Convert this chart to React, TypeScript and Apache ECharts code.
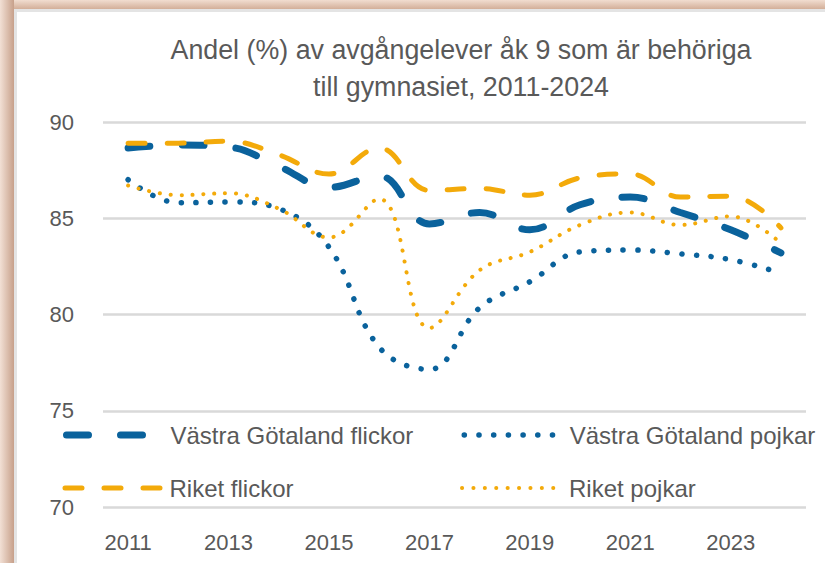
import React, { useEffect, useRef } from "react";
import * as echarts from "echarts";

const years = ["2011","2012","2013","2014","2015","2016","2017","2018","2019","2020","2021","2022","2023","2024"];
const vgFlickor = [88.65, 88.8, 88.7, 87.7, 86.6, 87.2, 84.7, 85.3, 84.4, 85.7, 86.1, 85.3, 84.4, 83.2];
const vgPojkar = [87.0, 85.8, 85.85, 85.5, 83.5, 78.3, 77.15, 80.35, 81.7, 83.25, 83.35, 83.15, 82.85, 82.15];
const riketFlickor = [88.9, 88.9, 89.0, 88.3, 87.3, 88.65, 86.45, 86.55, 86.2, 87.1, 87.3, 86.1, 86.15, 84.5];
const riketPojkar = [86.7, 86.2, 86.3, 85.5, 84.0, 86.0, 79.3, 82.3, 83.25, 84.65, 85.3, 84.65, 85.1, 83.7];

const names = ["Västra Götaland flickor", "Västra Götaland pojkar", "Riket flickor", "Riket pojkar"];
const titleText = "Andel (%) av avgångelever åk 9 som är behöriga\ntill gymnasiet, 2011-2024";
const BLUE = "#0a629c";
const ORANGE = "#f3aa0a";
const TEXT = "#595959";
const FONT = "Liberation Sans";

export default function App() {
  const ref = useRef<HTMLDivElement>(null);
  useEffect(() => {
    if (!ref.current) return;
    const chart = echarts.init(ref.current, null, { renderer: "svg" });
    const legendText = { color: TEXT, fontSize: 24, fontFamily: FONT };
    const mkLegend = (name: string, left: number, top: number, w: number, pad: number, ls: any) => ({
      show: true,
      data: [name],
      left,
      top,
      padding: 0,
      itemWidth: w,
      itemHeight: 14,
      selectedMode: false,
      itemStyle: { color: "rgba(0,0,0,0)", borderColor: "rgba(0,0,0,0)", borderWidth: 0, opacity: 0 },
      textStyle: { ...legendText, padding: [0, 0, 0, pad] },
      lineStyle: ls,
    });
    chart.setOption({
      animation: false,
      backgroundColor: "#ffffff",
      grid: { left: 103, right: 19, top: 122, bottom: 56 },
      xAxis: {
        type: "category",
        data: years,
        boundaryGap: true,
        axisLine: { show: false },
        axisTick: { show: false },
        axisLabel: { interval: 1, color: TEXT, fontSize: 22, fontFamily: FONT, margin: 24 },
      },
      yAxis: {
        type: "value",
        min: 70,
        max: 90,
        interval: 5,
        axisLine: { show: false },
        axisTick: { show: false },
        axisLabel: { color: TEXT, fontSize: 22, fontFamily: FONT, margin: 29 },
        splitLine: { lineStyle: { color: "#d9d9d9", width: 2.5 } },
      },
      legend: [
        mkLegend(names[0], 63, 423, 80, 19, { color: BLUE, width: 7, type: [22, 32], cap: "round" }),
        mkLegend(names[2], 62.5, 476, 96, 3.5, { color: ORANGE, width: 5, type: [17, 22], cap: "round" }),
        mkLegend(names[1], 461.5, 423, 90, 10.5, { color: BLUE, width: 5.5, type: [0.1, 14.6], cap: "round" }),
        mkLegend(names[3], 460, 476, 92, 10, { color: ORANGE, width: 4, type: [0.1, 11.3], cap: "round" }),
      ],
      series: [
        {
          name: names[0], type: "line", data: vgFlickor, smooth: 0.4, symbol: "none",
          lineStyle: { color: BLUE, width: 7, type: [22, 32], cap: "round" }, itemStyle: { color: BLUE },
        },
        {
          name: names[1], type: "line", data: vgPojkar, smooth: 0.4, symbol: "none",
          lineStyle: { color: BLUE, width: 5.5, type: [0.1, 14.6], cap: "round" }, itemStyle: { color: BLUE },
        },
        {
          name: names[2], type: "line", data: riketFlickor, smooth: 0.4, symbol: "none",
          lineStyle: { color: ORANGE, width: 5, type: [17, 22], cap: "round" }, itemStyle: { color: ORANGE },
        },
        {
          name: names[3], type: "line", data: riketPojkar, smooth: 0.4, symbol: "none",
          lineStyle: { color: ORANGE, width: 4, type: [0.1, 10.8], cap: "round" }, itemStyle: { color: ORANGE },
        },
      ],
      graphic: [
        {
          type: "text", x: 461, y: 31, z: 5, silent: true,
          style: {
            text: titleText, align: "center", verticalAlign: "top",
            fill: TEXT, fontSize: 26.8, fontFamily: FONT, lineHeight: 37,
          },
        },
        {
          type: "rect", left: 0, top: 0, shape: { width: 825, height: 9 }, z: 10, silent: true,
          style: { fill: new echarts.graphic.LinearGradient(0, 0, 0, 1, [{ offset: 0, color: "#f1ddd0" }, { offset: 1, color: "#d3af99" }]) },
        },
        {
          type: "rect", left: 0, top: 0, shape: { width: 14, height: 563 }, z: 11, silent: true,
          style: { fill: new echarts.graphic.LinearGradient(0, 0, 1, 0, [{ offset: 0, color: "#f2e0d5" }, { offset: 1, color: "#c7a08a" }]) },
        },
        { type: "rect", left: 14, top: 9, shape: { width: 811, height: 3 }, z: 10, silent: true, style: { fill: "#e4e4e4" } },
        { type: "rect", left: 14, top: 9, shape: { width: 3, height: 554 }, z: 10, silent: true, style: { fill: "#e4e4e4" } },
      ],
    });
    return () => chart.dispose();
  }, []);
  return (
    <div style={{ position: "fixed", left: 0, top: 0, width: 825, height: 563, background: "#fff" }}>
      <div ref={ref} style={{ width: 825, height: 563 }} />
    </div>
  );
}
